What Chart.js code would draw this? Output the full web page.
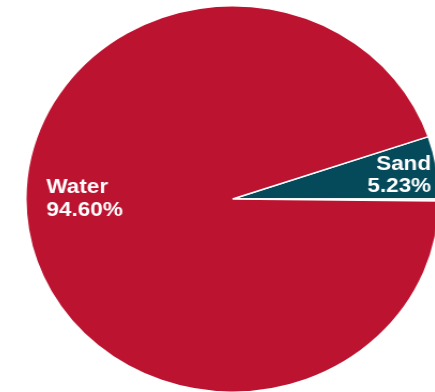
<!DOCTYPE html>
<html>
<head>
<meta charset="utf-8">
<script src="https://cdn.jsdelivr.net/npm/chart.js@4"></script>
<style>
  html, body { margin: 0; padding: 0; width: 435px; height: 392px; overflow: hidden; background: #fff; }
  #wrap { position: absolute; left: 25px; top: 5px; transform: scaleX(1.07); transform-origin: 0 0; }
</style>
</head>
<body>
<div id="wrap"><canvas id="pie" width="388" height="388"></canvas></div>
<script>
var labels = ["Sand", "Other", "Water"];
var shares = [5.23, 0.17, 94.60];
var colors = ["#054a5a", "#e9d9b9", "#bc1430"];
var shownLabels = { "Water": "94.60%", "Sand": "5.23%" };

// start the first slice so that Sand sits just above the 3 o'clock line
var startAngle = 90 - shares[0] / 100 * 360;

var labelPlugin = {
  id: "sliceLabels",
  afterDatasetsDraw: function(chart) {
    var ctx = chart.ctx;
    var arc = chart.getDatasetMeta(0).data[0];
    var cx = arc.x, cy = arc.y, r = arc.outerRadius;
    ctx.save();
    ctx.fillStyle = "#ffffff";
    ctx.font = "bold 21px 'Liberation Sans', Arial, sans-serif";
    ctx.textBaseline = "alphabetic";

    // Water, left side
    ctx.textAlign = "left";
    ctx.fillText("Water", cx - 0.9 * r, cy - 6);
    ctx.fillText(shownLabels["Water"], cx - 0.9 * r, cy + 17);

    // Sand, right side inside its wedge
    ctx.textAlign = "right";
    ctx.fillText("Sand", cx + 0.96 * r, cy - 29);
    ctx.fillText(shownLabels["Sand"], cx + 0.96 * r, cy - 7);
    ctx.restore();
  }
};

var config = {
  type: "pie",
  data: {
    labels: labels,
    datasets: [{
      data: shares,
      backgroundColor: colors,
      borderColor: "#ffffff",
      borderWidth: 1.5
    }]
  },
  options: {
    responsive: false,
    animation: false,
    devicePixelRatio: 1,
    rotation: startAngle,
    layout: { padding: 0 },
    plugins: {
      legend: { display: false },
      tooltip: { enabled: false }
    }
  },
  plugins: [labelPlugin]
};

new Chart(document.getElementById("pie"), config);
</script>
</body>
</html>
